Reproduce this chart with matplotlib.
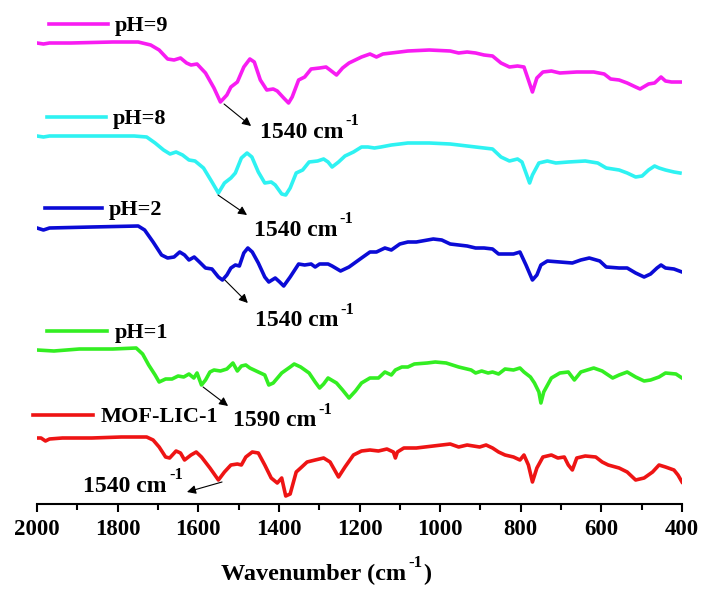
import numpy as np
import matplotlib
matplotlib.use('Agg')
import matplotlib.pyplot as plt

plt.rcParams['font.family'] = 'Liberation Serif'
plt.rcParams['font.weight'] = 'bold'

# FTIR spectra (stacked, a.u.), wavenumber in cm-1
wn_ph9 = [2000, 1984, 1969, 1916, 1812, 1749, 1718, 1697, 1676, 1660, 1644, 1629, 1618, 1603, 1582,
          1561, 1545, 1529, 1519, 1503, 1487, 1472, 1461, 1446, 1430, 1414, 1404, 1388, 1376, 1367,
          1351, 1336, 1320, 1299, 1283, 1273, 1257, 1242, 1226, 1195, 1174, 1158, 1142, 1121, 1100,
          1080, 1027, 975, 954, 933, 912, 891, 870, 849, 828, 808, 792, 781, 771, 760, 745, 724, 703,
          661, 619, 593, 577, 556, 536, 515, 504, 483, 468, 452, 441, 426, 400]
t_ph9 = [461, 460, 461, 461, 462, 462, 459, 454, 445, 444, 446, 441, 439, 440, 431,
         416, 402, 409, 417, 422, 437, 445, 442, 424, 414, 415, 413, 406, 401, 407,
         424, 427, 435, 436, 437, 434, 429, 436, 441, 447, 450, 447, 450, 451, 452,
         453, 454, 453, 451, 452, 451, 449, 448, 441, 437, 438, 437, 424, 412, 426, 432, 433, 431,
         432, 432, 430, 425, 424, 421, 417, 415, 420, 421, 427, 423, 422, 422]

wn_ph8 = [2000, 1984, 1969, 1864, 1759, 1728, 1707, 1686, 1670, 1655, 1639, 1623, 1608, 1587, 1566,
          1550, 1535, 1519, 1508, 1493, 1479, 1467, 1451, 1435, 1419, 1409, 1393, 1383, 1372, 1357,
          1341, 1325, 1304, 1289, 1278, 1268, 1252, 1236, 1215, 1195, 1179, 1163, 1147, 1121, 1100,
          1080, 1027, 975, 933, 912, 891, 870, 849, 828, 808, 797, 787, 778, 771, 755, 734, 713, 682,
          640, 609, 588, 556, 536, 515, 499, 483, 468, 457, 441, 420, 405]
t_ph8 = [368, 367, 368, 368, 368, 367, 361, 354, 350, 352, 349, 344, 343, 336, 322,
         311, 321, 326, 331, 346, 351, 347, 332, 321, 322, 319, 310, 309, 316, 331,
         334, 342, 343, 345, 342, 337, 342, 348, 352, 357, 357, 356, 357, 359, 360,
         361, 361, 360, 358, 357, 356, 355, 347, 343, 345, 342, 331, 321, 329, 341, 343, 341, 342,
         343, 341, 336, 334, 331, 327, 328, 334, 338, 336, 334, 332, 331]

wn_ph2 = [2000, 1984, 1969, 1864, 1749, 1733, 1712, 1691, 1676, 1660, 1646, 1634, 1623, 1610, 1597,
          1582, 1566, 1550, 1540, 1529, 1519, 1508, 1498, 1487, 1477, 1466, 1451, 1435, 1425, 1409,
          1398, 1388, 1372, 1351, 1336, 1320, 1310, 1299, 1278, 1268, 1247, 1226, 1195, 1174, 1158,
          1137, 1121, 1100, 1080, 1059, 1017, 996, 975, 933, 912, 891, 870, 855, 818, 802, 787, 771,
          760, 750, 734, 703, 672, 651, 630, 604, 588, 556, 536, 515, 494, 478, 462, 452, 441, 420, 400]
t_ph2 = [276, 274, 276, 277, 278, 274, 262, 249, 246, 247, 252, 249, 244, 247, 242,
         236, 235, 227, 224, 229, 236, 239, 238, 251, 256, 252, 241, 227, 222, 226,
         222, 218, 227, 240, 239, 240, 237, 240, 240, 238, 233, 237, 246, 252, 252,
         256, 254, 260, 262, 262, 265, 264, 260, 258, 256, 256, 255, 250, 250, 252, 239, 224,
         229, 239, 243, 242, 241, 244, 246, 243, 237, 236, 236, 231, 227, 230, 236, 239, 236, 235, 232]

wn_ph1 = [2000, 1958, 1895, 1812, 1754, 1738, 1723, 1707, 1697, 1681, 1665, 1650, 1636, 1623, 1611,
          1603, 1592, 1582, 1571, 1561, 1545, 1529, 1514, 1503, 1493, 1482, 1472, 1451, 1435, 1425,
          1414, 1393, 1372, 1362, 1346, 1325, 1310, 1299, 1289, 1278, 1257, 1242, 1226, 1210, 1195,
          1174, 1153, 1137, 1121, 1111, 1095, 1080, 1064, 1032, 1012, 985, 954, 923, 912, 897, 881,
          870, 855, 839, 818, 802, 792, 776, 766, 755, 750, 743, 724, 703, 682, 667, 651, 619, 598,
          572, 556, 536, 515, 494, 478, 457, 441, 415, 400]
t_ph1 = [154, 153, 155, 155, 156, 150, 139, 129, 122, 125, 125, 128, 127, 130, 126,
         131, 119, 124, 132, 134, 133, 135, 141, 133, 138, 139, 136, 132, 129, 119,
         121, 131, 137, 140, 137, 131, 122, 116, 120, 126, 121, 114, 106, 113, 121,
         126, 126, 132, 129, 134, 137, 137, 140, 141, 142, 141, 137, 134, 131, 133, 131,
         132, 130, 135, 134, 136, 132, 127, 121, 112, 101, 112, 126, 131, 132, 124, 132, 136, 133,
         126, 129, 132, 127, 123, 124, 127, 131, 130, 126]

wn_mof = [2000, 1990, 1979, 1969, 1937, 1864, 1791, 1728, 1712, 1697, 1681, 1671, 1655, 1644, 1634,
          1618, 1605, 1592, 1571, 1550, 1535, 1519, 1503, 1493, 1482, 1466, 1451, 1435, 1419, 1404,
          1393, 1383, 1372, 1357, 1346, 1330, 1310, 1289, 1273, 1252, 1236, 1215, 1195, 1174, 1153,
          1132, 1116, 1111, 1106, 1090, 1059, 1017, 975, 954, 933, 902, 886, 870, 855, 839, 818, 802,
          792, 781, 771, 760, 745, 724, 708, 692, 682, 672, 661, 640, 614, 598, 583, 556, 536, 515,
          494, 473, 457, 441, 420, 410, 400]
t_mof = [66, 66, 63, 65, 66, 66, 67, 67, 64, 57, 47, 46, 53, 51, 44,
         49, 52, 47, 36, 24, 32, 39, 40, 39, 47, 52, 51, 39, 26, 21,
         26, 8, 10, 32, 36, 42, 44, 46, 42, 27, 37, 49, 53, 54, 53,
         55, 52, 46, 52, 56, 56, 58, 60, 57, 59, 57, 59, 56, 52, 49, 47, 44,
         49, 39, 22, 36, 47, 49, 46, 47, 39, 34, 46, 48, 47, 42, 39, 36, 32, 24,
         26, 32, 39, 37, 34, 29, 22]

labels = ['pH=9', 'pH=8', 'pH=2', 'pH=1', 'MOF-LIC-1']
colors = ['#f81cf2', '#2ef2f2', '#0b0bd6', '#33ee22', '#ee1414']
spectra = [(wn_ph9, t_ph9), (wn_ph8, t_ph8), (wn_ph2, t_ph2), (wn_ph1, t_ph1), (wn_mof, t_mof)]

# legend stubs next to each curve: (x_start, x_end, y)
stubs = [(1970, 1824, 480), (1975, 1829, 387), (1980, 1839, 296), (1975, 1826, 173), (2010, 1861, 89)]

# peak annotations: (text, peak xy, arrow end, text pos, ha)
notes = [('1540', (1536, 400), (1469, 378), (1447, 372), 'left'),
         ('1540', (1551, 309), (1479, 289), (1462, 274), 'left'),
         ('1540', (1534, 224), (1477, 201), (1459, 183), 'left'),
         ('1590', (1588, 117), (1526, 98), (1514, 83), 'left'),
         ('1540', (1541, 22), (1628, 12), (1885, 18), 'left')]


def sup_text(ax, x, y, main, size, **kw):
    # main text followed by a raised "-1"
    t = ax.text(x, y, main, fontsize=size, fontweight='bold', **kw)
    s = ax.annotate('-1', xy=(1.0, 0.66), xycoords=t, xytext=(1.5, 0), textcoords='offset points',
                    fontsize=size * 0.7, fontweight='bold', va='bottom', ha='left')
    return t, s


fig = plt.figure(figsize=(7.05, 5.89), dpi=100)
ax = fig.add_axes([37 / 705, 85 / 589, 645 / 705, 494 / 589])

for (wn, t), c in zip(spectra, colors):
    ax.plot(wn, t, color=c, lw=2.6, solid_joinstyle='round')

for (x0, x1, y), c, lab in zip(stubs, colors, labels):
    ax.plot([x0, x1], [y, y], color=c, lw=2.6, clip_on=False)
    ax.text(x1 - 18, y - 2, lab, fontsize=16, fontweight='bold', va='center', ha='left')

for txt, xy, end, tpos, ha in notes:
    ax.annotate('', xy=end, xytext=xy,
                arrowprops=dict(arrowstyle='-|>', color='black', lw=0.8, mutation_scale=13,
                                shrinkA=0, shrinkB=0))
    sup_text(ax, tpos[0], tpos[1], txt + ' cm', 17, va='center', ha=ha)

ax.set_xlim(2000, 400)
ax.set_ylim(0, 494)
ax.set_xticks(np.arange(2000, 399, -200))
ax.set_xticks(np.arange(1900, 400, -200), minor=True)
ax.tick_params(axis='x', which='major', direction='out', length=6, width=1.5, labelsize=16.5, pad=5)
ax.tick_params(axis='x', which='minor', direction='out', length=4, width=1.5)
ax.set_yticks([])
for s in ['left', 'right', 'top']:
    ax.spines[s].set_visible(False)
ax.spines['bottom'].set_linewidth(1.5)
for lbl in ax.get_xticklabels():
    lbl.set_fontweight('bold')

# x label: "Wavenumber (cm-1)" with raised -1
xl, xs = sup_text(ax, 0.286, -0.142, 'Wavenumber (cm', 17.5, transform=ax.transAxes,
                  va='center', ha='left')
ax.annotate(')', xy=(1.0, 0.0), xycoords=(xs, xl), xytext=(0.5, 0), textcoords='offset points',
            fontsize=17.5, fontweight='bold', va='bottom', ha='left')

fig.savefig('out.png', dpi=100)
